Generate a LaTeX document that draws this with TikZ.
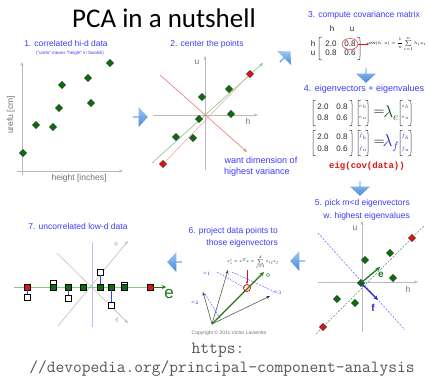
\documentclass[tikz,border=0pt]{standalone}
\usepackage{amsmath}
\usepackage{fontspec}
\setmainfont{Liberation Sans}
\newfontfamily\titlefont{Carlito}
\newfontfamily\courier{Liberation Mono}
\usetikzlibrary{shapes.geometric,shapes.arrows,arrows.meta}
\definecolor{lblue}{RGB}{60,60,250}
\definecolor{ptgreen}{RGB}{10,110,10}
\definecolor{ptred}{RGB}{220,20,20}
\definecolor{axgray}{RGB}{185,185,185}
\definecolor{txtgray}{RGB}{115,115,115}
\definecolor{lgreen}{RGB}{130,200,130}
\definecolor{lred}{RGB}{235,120,120}
\definecolor{dgreen}{RGB}{30,120,30}
\definecolor{dblue}{RGB}{40,40,200}
\definecolor{arrtop}{RGB}{160,200,242}
\definecolor{arrbot}{RGB}{70,135,215}
\definecolor{urlgray}{RGB}{85,85,85}
\newcommand\mylpar[3]{\draw[parst] ({#1+3},#2) .. controls ({#1},#2) .. ({#1},{#2+4}) -- ({#1},{#3-4}) .. controls ({#1},#3) .. ({#1+3},#3);}
\newcommand\myrpar[3]{\draw[parst] ({#1-3},#2) .. controls ({#1},#2) .. ({#1},{#2+4}) -- ({#1},{#3-4}) .. controls ({#1},#3) .. ({#1-3},#3);}
\begin{document}
\begin{tikzpicture}[x=1pt,y=-1pt,
  lbl/.style={text=lblue, font=\fontsize{8.5}{10}\selectfont, inner sep=0},
  axlbl/.style={text=txtgray, font=\fontsize{8.5}{10}\selectfont, inner sep=0},
  axis/.style={draw=axgray, line width=0.6pt, -{Stealth[length=4pt,width=3pt]}},
  dpt/.style={diamond, draw=black!80, fill=ptgreen, inner sep=0, minimum size=7.5pt, line width=0.4pt},
  rdpt/.style={dpt, fill=ptred},
  sqpt/.style={rectangle, draw=black, fill=ptgreen, inner sep=0, minimum size=5.5pt, line width=0.4pt},
  rsqpt/.style={sqpt, fill=ptred},
  osqpt/.style={sqpt, fill=white},
  barrow/.style={single arrow, shading=axis, top color=arrtop, bottom color=arrbot, draw=none,
     inner sep=0, minimum width=20pt, minimum height=15pt, single arrow head extend=3pt, single arrow tip angle=95},
  parst/.style={draw=black!80, line width=0.5pt},
  num/.style={font=\fontsize{8}{9}\selectfont, text=black!85, inner sep=0},
  tiny/.style={font=\fontsize{5}{6}\selectfont, inner sep=0}
]
\useasboundingbox (0,0) rectangle (429,381);
\fill[white] (0,0) rectangle (429,381);

% title
\node[font=\titlefont\fontsize{27}{30}\selectfont, inner sep=0] (title) at (164,18) {PCA in a nutshell};

% ---------- panel 1
\node[lbl] (l1) at (66,43) {1. correlated hi-d data};
\node[font=\fontsize{4.5}{5}\selectfont, text=lblue, inner sep=0] (l1s) at (70,53) {(``urefu'' means ``height'' in Swahili)};
\coordinate (p1a) at (22,175); \coordinate (p1y) at (22,62);
\coordinate (p1b) at (17,171); \coordinate (p1x) at (123,171);
\draw[axis] (p1a) -- (p1y);
\draw[axis] (p1b) -- (p1x);
\node[axlbl, rotate=90] (ylab) at (11,115) {urefu [cm]};
\node[axlbl] (xlab) at (79,178) {height [inches]};
\foreach \x/\y [count=\i] in {110/63,88/78,62/85,59/108,91/103,36/125,53/127,23/153}
  \node[dpt] (a\i) at (\x,\y) {};

% arrow 1->2
\node[barrow] (ar12) at (140,117) {};

% ---------- panel 2
\node[lbl] (l2) at (207,44) {2. center the points};
\coordinate (p2a) at (205,170); \coordinate (p2y) at (205,56);
\coordinate (p2b) at (153,115); \coordinate (p2x) at (258,115);
\draw[axis] (p2a) -- (p2y);
\draw[axis] (p2b) -- (p2x);
\node[axlbl] (u2) at (197,62) {u};
\node[axlbl] (h2) at (248,121) {h};
\coordinate (g2a) at (152,163); \coordinate (g2b) at (263,63);
\draw[draw=lgreen, line width=0.6pt, -{Stealth[length=4pt,width=3pt,fill=ptgreen]}] (g2a) -- (g2b);
\coordinate (r2a) at (160,75); \coordinate (r2b) at (247,152);
\draw[draw=lred, line width=0.6pt, -{Stealth[length=4pt,width=3pt,fill=ptred]}] (r2a) -- (r2b);
\node[rdpt] (b1) at (250,74) {};
\node[rdpt] (b2) at (163,164) {};
\draw[draw=lred!70, line width=0.5pt] (b2) -- (b1);
\foreach \x/\y [count=\i from 3] in {229/89,202/97,231/114,199/119,176/137,193/138}
  \node[dpt] (b\i) at (\x,\y) {};
\node[lbl, font=\fontsize{9}{10}\selectfont] (want1) at (261,160) {want dimension of};
\node[lbl, font=\fontsize{9}{10}\selectfont] (want2) at (257,172) {highest variance};

% arrow 2->3
\node[barrow, rotate=45] (ar23) at (285,57) {};

% ---------- panel 3
\node[lbl] (l3) at (364,15) {3. compute covariance matrix};
\node[num] (ch) at (332,29) {h};
\node[num] (cu) at (352,29) {u};
\node[num] (rh) at (313,44) {h};
\node[num] (ru) at (313,53) {u};
\node[num] (m11) at (331,44) {2.0};
\node[num] (m12) at (350,44) {0.8};
\node[num] (m21) at (331,53) {0.8};
\node[num] (m22) at (350,53) {0.6};
\mylpar{319}{37}{60}
\myrpar{360}{37}{60}
\node[ellipse, draw=ptred!80, line width=0.6pt, minimum width=16pt, minimum height=11pt, inner sep=0] (circ) at (350,44) {};
\node[font=\fontsize{5}{6}\selectfont, inner sep=0, anchor=west] (cov) at (369,44) {\scalebox{0.82}{$\mathrm{cov}(h,u)=\dfrac{1}{n}\displaystyle\sum_{i=1}^{n}h_iu_i$}};
\draw[draw=ptred, line width=0.5pt, -{Stealth[length=2.5pt,width=2.5pt]}] (circ) -- (cov);

% arrow 3->4
\node[barrow, rotate=-90] (ar34) at (366,75) {};

% ---------- panel 4
\node[lbl, font=\fontsize{9}{10}\selectfont] (l4) at (364,89) {4. eigenvectors + eigenvalues};
% eq 1
\mylpar{313}{100}{126} \myrpar{352}{100}{126}
\node[num] (e11) at (323,107) {2.0};
\node[num] (e12) at (342,107) {0.8};
\node[num] (e21) at (323,118) {0.8};
\node[num] (e22) at (342,118) {0.6};
\mylpar{358}{100}{126} \myrpar{368}{100}{126}
\node[tiny, text=dgreen] (eh1) at (363,107) {$e_h$};
\node[tiny, text=dgreen] (eu1) at (363,118) {$e_u$};
\node[font=\fontsize{15}{16}\selectfont, inner sep=0] (eq1) at (379,113) {$=$};
\node[font=\fontsize{16}{17}\selectfont, inner sep=0, text=dgreen!70!black] (lam1) at (391,113) {$\lambda_{e}$};
\mylpar{400}{100}{126} \myrpar{411}{100}{126}
\node[tiny, text=dgreen] (eh2) at (405.5,107) {$e_h$};
\node[tiny, text=dgreen] (eu2) at (405.5,118) {$e_u$};
% eq 2
\mylpar{313}{130}{156} \myrpar{352}{130}{156}
\node[num] (f11) at (323,137) {2.0};
\node[num] (f12) at (342,137) {0.8};
\node[num] (f21) at (323,149) {0.8};
\node[num] (f22) at (342,149) {0.6};
\mylpar{358}{130}{156} \myrpar{368}{130}{156}
\node[tiny, text=dblue] (fh1) at (363,137) {$f_h$};
\node[tiny, text=dblue] (fu1) at (363,149) {$f_u$};
\node[font=\fontsize{15}{16}\selectfont, inner sep=0] (eq2) at (379,143) {$=$};
\node[font=\fontsize{16}{17}\selectfont, inner sep=0, text=dblue] (lam2) at (391,143) {$\lambda_{f}$};
\mylpar{400}{130}{156} \myrpar{411}{130}{156}
\node[tiny, text=dblue] (fh2) at (405.5,137) {$f_h$};
\node[tiny, text=dblue] (fu2) at (405.5,149) {$f_u$};
\node[font=\courier\bfseries\fontsize{9}{10}\selectfont, text=ptred, inner sep=0] (eig) at (367,166) {eig(cov(data))};

% arrow 4->5
\node[barrow, rotate=-90] (ar45) at (360,188) {};

% ---------- panel 5
\node[lbl, anchor=east] (l5a) at (410,203) {5. pick m<d eigenvectors};
\node[lbl, anchor=east] (l5b) at (410,216) {w. highest eigenvalues};
\coordinate (p5a) at (362,332); \coordinate (p5y) at (362,221);
\coordinate (p5b) at (318,282); \coordinate (p5x) at (418,282);
\draw[axis] (p5a) -- (p5y);
\draw[axis] (p5b) -- (p5x);
\node[axlbl] (u5) at (355,228) {u};
\node[axlbl] (h5) at (408,289) {h};
\coordinate (g5a) at (316,334); \coordinate (g5b) at (424,226);
\draw[draw=ptgreen!70, dashed, dash pattern=on 2pt off 1.5pt, line width=0.6pt] (g5a) -- (g5b);
\coordinate (bl5a) at (318,233); \coordinate (bl5b) at (405,330);
\draw[draw=lblue!70, dashed, dash pattern=on 2pt off 1.5pt, line width=0.6pt] (bl5a) -- (bl5b);
\node[rdpt] (c1) at (412,238) {};
\node[rdpt] (c2) at (323,327) {};
\foreach \x/\y [count=\i from 3] in {390/253,365/260,393/278,361/283,337/299,355/303}
  \node[dpt] (c\i) at (\x,\y) {};
\coordinate (ve) at (380,267); \coordinate (vf) at (378,300);
\draw[draw=dgreen, line width=1.3pt, -{Stealth[length=4.5pt,width=4pt]}] (c6.center) -- (ve);
\draw[draw=dblue, line width=1.3pt, -{Stealth[length=4.5pt,width=4pt]}] (c6.center) -- (vf);
\node[font=\bfseries\fontsize{10}{11}\selectfont, text=dgreen, inner sep=0] (le) at (381,275) {e};
\node[font=\bfseries\fontsize{10}{11}\selectfont, text=dblue, inner sep=0] (lf) at (373,308) {f};

% arrow 5->6
\node[barrow, rotate=180] (ar56) at (298,261) {};

% ---------- panel 6
\node[lbl, anchor=east] (l6a) at (278,231) {6. project data points to};
\node[lbl, anchor=east] (l6b) at (278,243) {those eigenvectors};
\node[font=\fontsize{5}{6}\selectfont, inner sep=0, anchor=east] (form) at (279,262) {\scalebox{0.75}{$x_i'=x^Te=\displaystyle\sum_{j=1}^{d}x_{ij}e_j$}};
\coordinate (o6) at (212,324);
\coordinate (k1) at (228,270); \coordinate (k2) at (203,292); \coordinate (k3) at (270,296);
\coordinate (g6) at (264,272);
\foreach \k in {k1,k2,k3}
  \draw[draw=black!75, line width=0.5pt, -{Stealth[length=4pt,width=3pt]}] (o6) -- (\k);
\coordinate (d1a) at (217,272); \coordinate (d1b) at (245,288);
\coordinate (d2a) at (232,272); \coordinate (d2b) at (275,292);
\coordinate (d3a) at (205,294); \coordinate (d3b) at (220,318);
\draw[draw=lblue!80, dashed, dash pattern=on 1.8pt off 1.2pt, line width=0.5pt] (d1a) -- (d1b);
\draw[draw=lblue!80, dashed, dash pattern=on 1.8pt off 1.2pt, line width=0.5pt] (d2a) -- (d2b);
\draw[draw=lblue!80, dashed, dash pattern=on 1.8pt off 1.2pt, line width=0.5pt] (d3a) -- (d3b);
\draw[draw=ptgreen!90!lime, line width=1.2pt, -{Stealth[length=4.5pt,width=4pt]}] (o6) -- (g6);
\node[circle, draw=ptred, line width=0.8pt, minimum size=7pt, inner sep=0] (proj) at (247,288) {};
\coordinate (rarr) at (247,270);
\draw[draw=ptred, line width=0.6pt, -{Stealth[length=3pt,width=2.5pt]}] (rarr) -- (proj);
\node[circle, draw=dgreen!70, line width=0.4pt, minimum size=3.5pt, inner sep=0] (ge) at (268,275) {};
\node[tiny, text=lblue, font=\fontsize{4}{5}\selectfont] (x1) at (207,274) {$x_1$};
\node[tiny, text=lblue, font=\fontsize{4}{5}\selectfont] (x2) at (195,303) {$x_2$};
\node[tiny, text=lblue, font=\fontsize{4}{5}\selectfont] (x3) at (278,293) {$x_3$};
\node[font=\fontsize{5}{6}\selectfont, text=txtgray, inner sep=0] (copy) at (229,333) {Copyright \textcopyright{} 2011 Victor Lavrenko};

% arrow 6->7
\node[barrow, rotate=180] (ar67) at (175,262) {};

% ---------- panel 7
\node[lbl] (l7) at (78,226) {7. uncorrelated low-d data};
\coordinate (v7a) at (92,242); \coordinate (v7b) at (92,327);
\draw[draw=lblue!35, line width=0.6pt] (v7a) -- (v7b);
\coordinate (s7a) at (57,253); \coordinate (s7b) at (128,323);
\coordinate (s7c) at (58,326); \coordinate (s7d) at (128,241);
\draw[axis, draw=black!25] (s7a) -- (s7b);
\draw[axis, draw=black!25] (s7c) -- (s7d);
\node[tiny, text=lblue!60, rotate=-45, font=\fontsize{6}{7}\selectfont] (h7) at (117,320) {h};
\node[tiny, text=lblue!60, rotate=45, font=\fontsize{6}{7}\selectfont] (u7) at (116,244) {u};
\coordinate (g7a) at (14,287); \coordinate (g7b) at (150,287);
\draw[draw=lgreen, line width=0.8pt] (g7a) -- (g7b);
% open squares first
\foreach \x/\y [count=\i] in {27/297,53/283,68/298,100/272,111/305,124/285}
  \node[osqpt] (o\i) at (\x,\y) {};
\node[rsqpt] (q1) at (27,287) {};
\node[rsqpt] (q8) at (150,287) {};
\foreach \x [count=\i from 2] in {53,68,83,100,111,124}
  \node[sqpt] (q\i) at (\x,287) {};
\draw[draw=lblue, line width=0.5pt] (q1) -- (o1);
\draw[draw=lblue, line width=0.5pt] (q3) -- (o3);
\draw[draw=lblue, line width=0.5pt] (q5) -- (o4);
\draw[draw=lblue, line width=0.5pt] (q6) -- (o5);
\coordinate (e7) at (166,287);
\draw[draw=dgreen, line width=1pt, -{Stealth[length=4pt,width=4pt]}] (q8) -- (e7);
\node[font=\fontsize{17}{18}\selectfont, text=dgreen, inner sep=0] (le7) at (169,294) {e};

% ---------- url
\node[font=\ttfamily\fontsize{17}{18}\selectfont, text=urlgray, inner sep=0] (url1) at (218,350) {https:};
\node[font=\ttfamily\fontsize{17}{18}\selectfont, text=urlgray, inner sep=0] (url2) at (222,369) {//devopedia.org/principal-component-analysis};
\end{tikzpicture}
\end{document}
